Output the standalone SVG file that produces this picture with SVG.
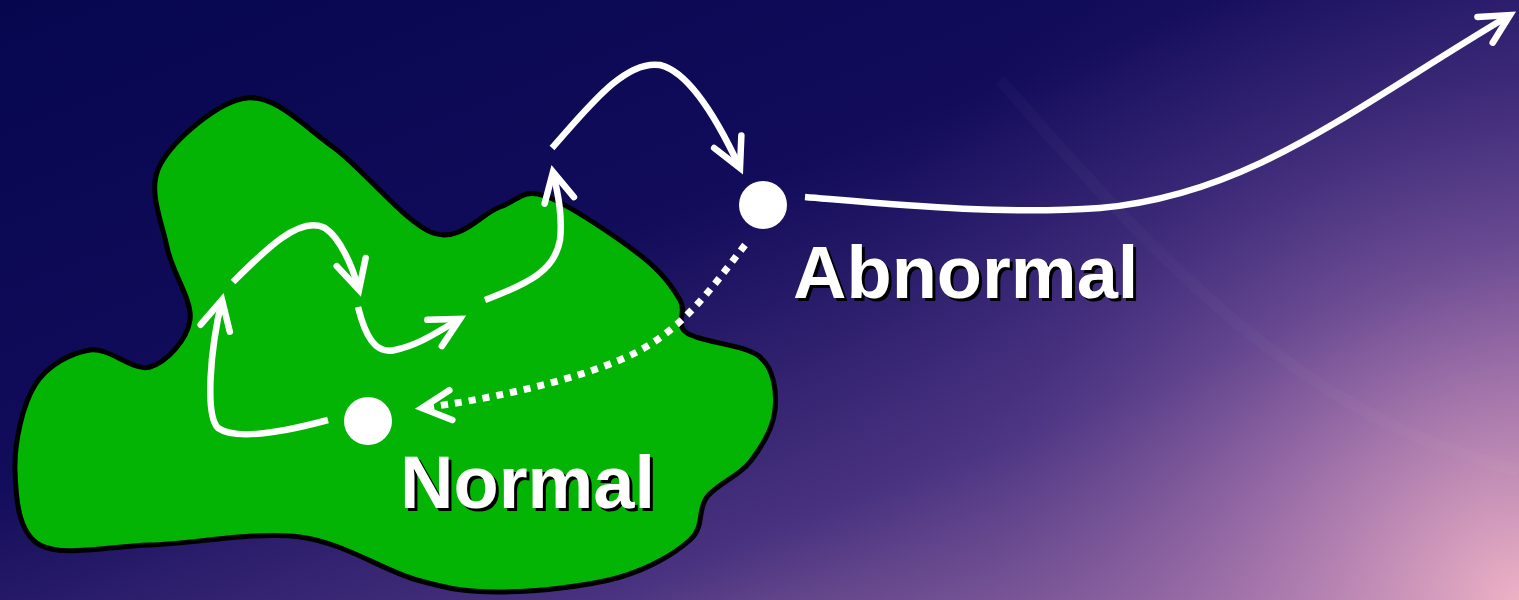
<svg xmlns="http://www.w3.org/2000/svg" width="1519" height="600" viewBox="0 0 1519 600">
<defs>
<linearGradient id="bg" x1="0" y1="0" x2="1" y2="1">
<stop offset="0" stop-color="#06064f"/>
<stop offset="0.4" stop-color="#120c5a"/>
<stop offset="0.7" stop-color="#4a3380"/>
<stop offset="1" stop-color="#c98fb5"/>
</linearGradient>
<radialGradient id="glow" cx="1519" cy="600" r="750" gradientUnits="userSpaceOnUse">
<stop offset="0" stop-color="#f0b4c6" stop-opacity="0.95"/>
<stop offset="0.35" stop-color="#a777b0" stop-opacity="0.6"/>
<stop offset="0.7" stop-color="#5a3f90" stop-opacity="0.25"/>
<stop offset="1" stop-color="#3a2a80" stop-opacity="0"/>
</radialGradient>
<marker id="head" viewBox="-36 -20 42 40" refX="0" refY="0" markerWidth="42" markerHeight="40" markerUnits="userSpaceOnUse" orient="auto" overflow="visible">
<path d="M-29,-15 L0,0 L-29,15" fill="none" stroke="#ffffff" stroke-width="6.5" stroke-linecap="round" stroke-linejoin="miter"/>
</marker>
<style>
.arr{fill:none;stroke:#ffffff;stroke-width:6.5;marker-end:url(#head)}
.dot{fill:#ffffff}
.lbl{font-family:"Liberation Sans",Arial,sans-serif;font-weight:bold;font-size:74px}
.sh{fill:#000000}
.fg{fill:#ffffff}
</style>
</defs>
<rect x="0" y="0" width="1519" height="600" fill="url(#bg)"/>
<rect x="0" y="0" width="1519" height="600" fill="url(#glow)"/>
<g fill="none" stroke="#ffffff" stroke-opacity="0.025" stroke-width="12">
<path d="M1000,80 C1150,250 1300,420 1519,470"/>
</g>
<g id="region">
<path d="M247,98 C275.8,95 302,124.5 333,147 C364,169.5 405.2,223 433,233 C460.8,243 481.3,213.2 500,207 C518.7,200.8 521.7,188 545,196 C568.3,204 617.5,237.7 640,255 C662.5,272.3 672.2,287 680,300 C687.8,313 673.7,323.5 687,333 C700.3,342.5 745.3,344.2 760,357 C774.7,369.8 776.7,392.5 775,410 C773.3,427.5 761.3,447.5 750,462 C738.7,476.5 717,484 707,497 C697,510 705,526.5 690,540 C675,553.5 648.7,569.3 617,578 C585.3,586.7 533.3,591.7 500,592 C466.7,592.3 450.3,589.2 417,580 C383.7,570.8 344.5,542.8 300,537 C255.5,531.2 193.3,543.7 150,545 C106.7,546.3 62.5,557.5 40,545 C17.5,532.5 15.8,496.7 15,470 C14.2,443.3 22.5,405 35,385 C47.5,365 70.8,353 90,350 C109.2,347 133.3,372 150,367 C166.7,362 187.2,340 190,320 C192.8,300 172,272.8 167,247 C162,221.2 146.7,189.8 160,165 C173.3,140.2 218.2,101 247,98 Z" fill="#04b404" stroke="#000000" stroke-width="5"/>
</g>
<g id="connectors">
<path class="arr" d="M328,420 C280,433 235,440 218,428 C205,415 210,350 222,300"/>
<path class="arr" d="M233,282 C265,250 300,215 325,228 C340,238 352,265 359,290"/>
<path class="arr" d="M358,307 C365,335 375,355 395,350 C420,345 440,330 460,319"/>
<path class="arr" d="M485,300 C530,283 555,270 560,240 C563,215 557,190 553,172"/>
<path class="arr" d="M552,148 C590,105 625,60 660,65 C690,72 720,125 740,168"/>
<path class="arr" d="M805,197 C900,205 1000,215 1100,208 C1250,195 1350,110 1510,15"/>
<path d="M745,245 C710,290 680,335 620,360 C560,385 480,400 430,407" fill="none" stroke="#ffffff" stroke-width="7" stroke-dasharray="7 7"/>
<path class="arr" d="M432,407 L422,408"/>
</g>
<g id="normal">
<circle class="dot" cx="368" cy="421" r="24"/>
<text class="lbl sh" x="403" y="511">Normal</text>
<text class="lbl fg" x="400" y="508">Normal</text>
</g>
<g id="abnormal">
<circle class="dot" cx="763" cy="205" r="24"/>
<text class="lbl sh" x="796" y="301">Abnormal</text>
<text class="lbl fg" x="793" y="298">Abnormal</text>
</g>
</svg>
